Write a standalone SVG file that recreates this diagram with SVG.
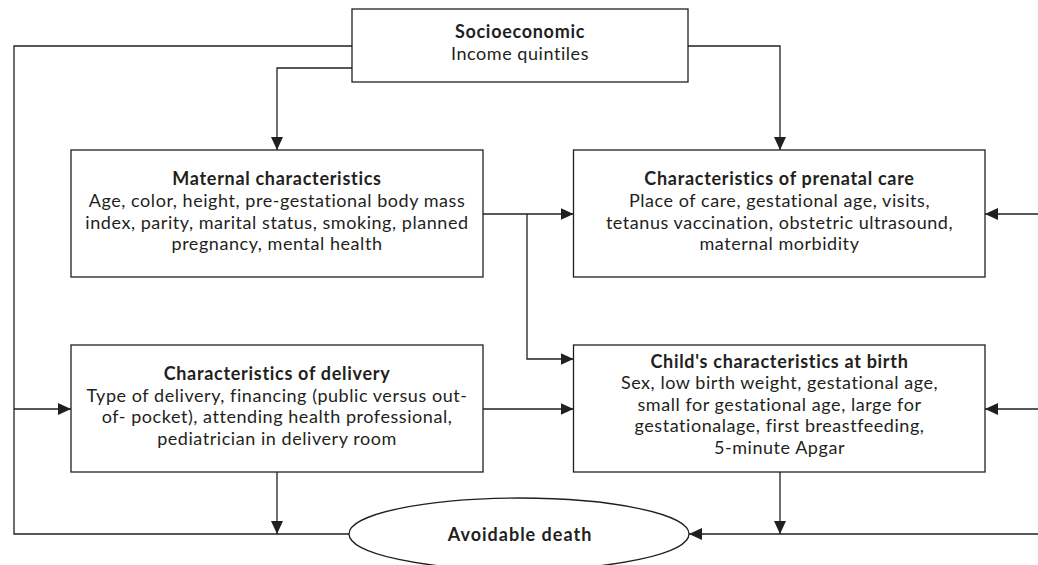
<svg xmlns="http://www.w3.org/2000/svg" width="1038" height="565" viewBox="0 0 1038 565">
<style>
.box{fill:#fff;stroke:#231f20;stroke-width:1.3}
.ln{fill:none;stroke:#231f20;stroke-width:1.3}
text{font-family:Lato,"Liberation Sans",sans-serif;fill:#231f20;text-anchor:middle;font-size:18px;letter-spacing:0.55px}
.t{font-weight:bold;letter-spacing:0.7px}
.d{letter-spacing:1px}
</style>
<defs>
<marker id="ah" markerUnits="userSpaceOnUse" markerWidth="13" markerHeight="12" refX="13" refY="6" orient="auto">
<path d="M0,0 L13,6 L0,12 z" fill="#231f20"/>
</marker>
</defs>
<rect width="1038" height="565" fill="#fff"/>
<g id="connectors">
<path class="ln" d="M352,46 H14 V534 H349"/>
<path class="ln" d="M352,68 H277 V150" marker-end="url(#ah)"/>
<path class="ln" d="M688,46 H780 V150" marker-end="url(#ah)"/>
<path class="ln" d="M483,214 H573.5" marker-end="url(#ah)"/>
<path class="ln" d="M527,214 V359 H573.5" marker-end="url(#ah)"/>
<path class="ln" d="M14,409 H71" marker-end="url(#ah)"/>
<path class="ln" d="M483,409 H573.5" marker-end="url(#ah)"/>
<path class="ln" d="M277,472 V534" marker-end="url(#ah)"/>
<path class="ln" d="M780,472 V534" marker-end="url(#ah)"/>
<path class="ln" d="M1038,214 H985" marker-end="url(#ah)"/>
<path class="ln" d="M1038,409 H985" marker-end="url(#ah)"/>
<path class="ln" d="M1038,534 H689" marker-end="url(#ah)"/>
</g>
<g id="socioeconomic">
<rect class="box" x="352" y="9" width="336" height="73"/>
<text x="520" y="38" class="t">Socioeconomic</text>
<text x="520" y="60">Income quintiles</text>
</g>
<g id="maternal">
<rect class="box" x="71" y="150" width="412" height="127"/>
<text x="277" y="185" class="t">Maternal characteristics</text>
<text x="277" y="207">Age, color, height, pre-gestational body mass</text>
<text x="277" y="228.5">index, parity, marital status, smoking, planned</text>
<text x="277" y="250">pregnancy, mental health</text>
</g>
<g id="prenatal">
<rect class="box" x="573.5" y="150" width="411.5" height="127"/>
<text x="779.5" y="185" class="t">Characteristics of prenatal care</text>
<text x="779.5" y="207">Place of care, gestational age, visits,</text>
<text x="779.5" y="228.5">tetanus vaccination, obstetric ultrasound,</text>
<text x="779.5" y="250">maternal morbidity</text>
</g>
<g id="delivery">
<rect class="box" x="71" y="345" width="412" height="127"/>
<text x="277" y="380" class="t">Characteristics of delivery</text>
<text x="277" y="401.7">Type of delivery, financing (public versus out-</text>
<text x="277" y="423.3">of- pocket), attending health professional,</text>
<text x="277" y="445">pediatrician in delivery room</text>
</g>
<g id="child">
<rect class="box" x="573.5" y="345" width="411.5" height="127"/>
<text x="779.5" y="367.7" class="t">Child's characteristics at birth</text>
<text x="779.5" y="389">Sex, low birth weight, gestational age,</text>
<text x="779.5" y="410.7">small for gestational age, large for</text>
<text x="779.5" y="432.3">gestationalage, first breastfeeding,</text>
<text x="779.5" y="454">5-minute Apgar</text>
</g>
<g id="death">
<ellipse class="box" cx="519" cy="534" rx="170" ry="36"/>
<text x="520" y="540.7" class="t d">Avoidable death</text>
</g>
</svg>
